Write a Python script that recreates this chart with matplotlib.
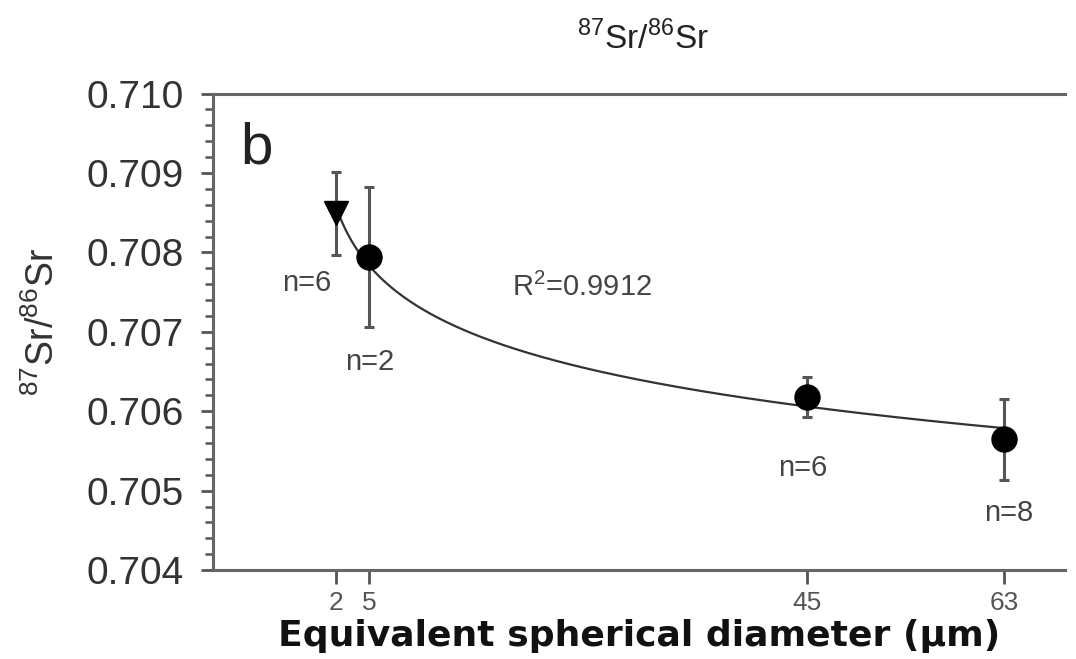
import numpy as np
import matplotlib
matplotlib.use("Agg")
import matplotlib.pyplot as plt
from matplotlib.ticker import MultipleLocator

plt.rcParams['font.family'] = ['Liberation Sans', 'DejaVu Sans']
plt.rcParams['mathtext.fontset'] = 'custom'
plt.rcParams['mathtext.rm'] = 'Liberation Sans'

# data
diam = [2, 5, 45, 63]
sr_ratio = [0.70849, 0.70794, 0.70618, 0.70565]
sr_err = [0.00052, 0.00088, 0.00025, 0.00051]
n_labels = ['n=6', 'n=2', 'n=6', 'n=8']
xticks = [2, 5, 45, 63]
yticks = [0.704, 0.705, 0.706, 0.707, 0.708, 0.709, 0.710]

fig = plt.figure(figsize=(10.76, 6.59), dpi=100)
ax = fig.add_axes([0.198, 0.135, 0.792, 0.723])

# log trend line through the points
k, b0 = np.polyfit(np.log(diam), sr_ratio, 1)
xf = np.linspace(diam[0], diam[-1], 300)
ax.plot(xf, k * np.log(xf) + b0, color='#333333', lw=1.6, zorder=2)

ax.errorbar(diam[:1], sr_ratio[:1], yerr=sr_err[:1], fmt='v', color='black',
            ms=17, ecolor='#555555', elinewidth=2.2, capsize=3.5, capthick=2.2, zorder=3)
ax.errorbar(diam[1:], sr_ratio[1:], yerr=sr_err[1:], fmt='o', color='black',
            ms=18, ecolor='#555555', elinewidth=2.2, capsize=3.5, capthick=2.2, zorder=3)

# n labels
lab_pos = [(-0.7, 0.707614), (5.1, 0.706621), (44.6, 0.705287), (63.4, 0.704721)]
for (lx, ly), t in zip(lab_pos, n_labels):
    ax.text(lx, ly, t, fontsize=21, color='#444444', ha='center', va='center')

ax.text(24.5, 0.707564, r'R$^2$=0.9912', fontsize=21, color='#444444', ha='center', va='center')
ax.text(-5.3, 0.70931, 'b', fontsize=42, color='#222222', ha='center', va='center')

ax.set_xlim(-9.23, 68.57)
ax.set_ylim(0.704, 0.710)
ax.set_xticks(xticks)
ax.set_yticks(yticks)
ax.set_yticklabels(['%.3f' % v for v in yticks])
ax.yaxis.set_minor_locator(MultipleLocator(0.0002))

ax.tick_params(axis='y', which='major', direction='out', length=9, width=2,
               color='#555555', labelsize=28, labelcolor='#333333', pad=12)
ax.tick_params(axis='y', which='minor', direction='out', length=6, width=1.8, color='#555555')
ax.tick_params(axis='x', which='major', direction='out', length=10, width=2,
               color='#555555', labelsize=19, labelcolor='#555555', pad=5)

for s in ['left', 'bottom', 'top']:
    ax.spines[s].set_color('#666666')
    ax.spines[s].set_linewidth(2.2)
ax.spines['right'].set_visible(False)

ax.set_xlabel('Equivalent spherical diameter (μm)', fontsize=26, fontweight='bold',
              family='DejaVu Sans', color='#111111', labelpad=3)
ax.set_ylabel(r'$^{87}$Sr/$^{86}$Sr', fontsize=27, color='#333333')
ax.yaxis.set_label_coords(-0.177, 0.52)
ax.set_title(r'$^{87}$Sr/$^{86}$Sr', fontsize=24, color='#222222', pad=32, x=0.505)

fig.savefig('out.png', dpi=100)
